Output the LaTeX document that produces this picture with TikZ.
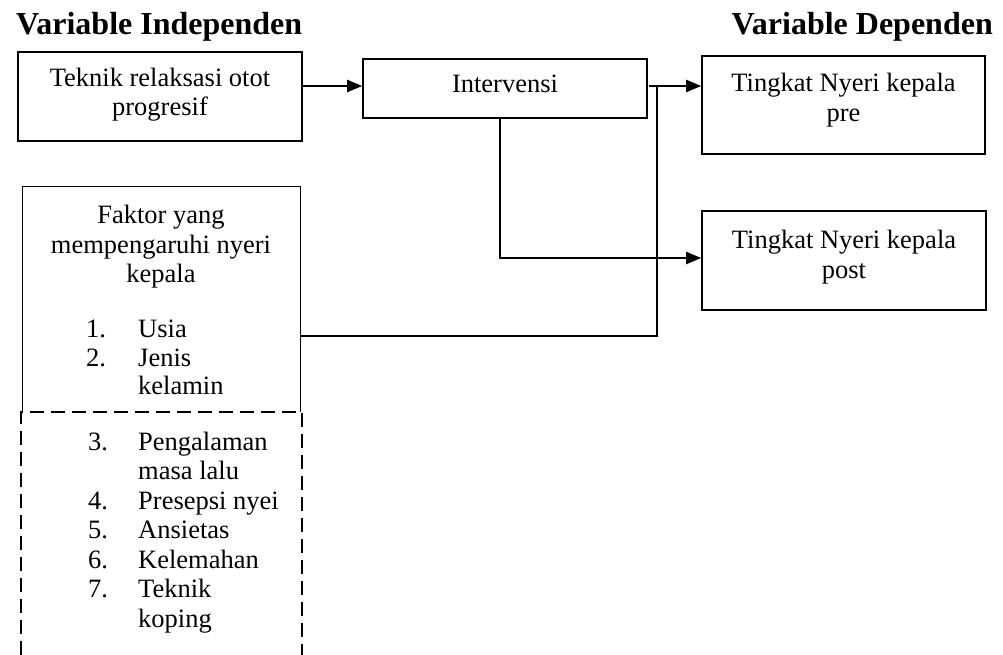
\documentclass[tikz,border=0pt]{standalone}
\usepackage{fontspec}
\setmainfont{Liberation Serif}
\usetikzlibrary{arrows.meta}
\begin{document}
\begin{tikzpicture}[x=1pt,y=-1pt,
  box/.style={draw, line width=1.6pt, inner sep=0pt},
  txt/.style={font=\fontsize{26.5}{29.5}\selectfont, inner sep=0pt, anchor=base},
  itm/.style={font=\fontsize{26.5}{29.5}\selectfont, inner sep=0pt, anchor=base west},
  ttl/.style={font=\fontsize{32}{34}\selectfont\bfseries, inner sep=0pt},
  conn/.style={line width=2.2pt},
  arr/.style={conn, -{Triangle[length=15pt,width=12pt]}},
  thinbox/.style={line width=1pt},
  dashbox/.style={line width=2.2pt, dash pattern=on 14pt off 7pt},
]
\useasboundingbox (0,0) rectangle (1003,655);
% titles
\node[ttl, anchor=base west] (t1) at (16,35) {Variable Independen};
\node[ttl, anchor=base east] (t2) at (993,35) {Variable Dependen};
% boxes
\node[box, minimum width=284pt, minimum height=89pt] (tek) at (160,96.5) {};
\node[box, minimum width=284pt, minimum height=59pt] (int) at (505,88.5) {};
\node[box, minimum width=283pt, minimum height=98pt] (pre) at (843.5,105) {};
\node[box, minimum width=284pt, minimum height=99pt] (post) at (844,260.5) {};
\node[inner sep=0pt, minimum width=277pt, minimum height=225pt] (fac) at (161.5,299.5) {};
\draw[thinbox] (fac.south west) -- (fac.north west) -- (fac.north east) -- (fac.south east);
\draw[dashbox] (21,655) -- (21,412) -- (302,412) -- (302,655);
% texts
\node[txt] (tekA) at (160,87) {Teknik relaksasi otot};
\node[txt] (tekB) at (160,116) {progresif};
\node[txt] (intA) at (505,93) {Intervensi};
\node[txt] (preA) at (843.5,92) {Tingkat Nyeri kepala};
\node[txt] (preB) at (843.5,122) {pre};
\node[txt] (postA) at (844,248) {Tingkat Nyeri kepala};
\node[txt] (postB) at (844,278) {post};
\node[txt] (facA) at (161,223) {Faktor yang};
\node[txt] (facB) at (161,253) {mempengaruhi nyeri};
\node[txt] (facC) at (161,282) {kepala};
\node[itm] (n1) at (86,337) {1.};
\node[itm] (i1) at (138,337) {Usia};
\node[itm] (n2) at (86,366) {2.};
\node[itm] (i2) at (138,366) {Jenis};
\node[itm] (i2b) at (138,394) {kelamin};
\node[itm] (n3) at (88,450) {3.};
\node[itm] (i3) at (138,450) {Pengalaman};
\node[itm] (i3b) at (138,479.5) {masa lalu};
\node[itm] (n4) at (88,509) {4.};
\node[itm] (i4) at (138,509) {Presepsi nyei};
\node[itm] (n5) at (88,538.5) {5.};
\node[itm] (i5) at (138,538.5) {Ansietas};
\node[itm] (n6) at (88,568) {6.};
\node[itm] (i6) at (138,568) {Kelemahan};
\node[itm] (n7) at (88,597.5) {7.};
\node[itm] (i7) at (138,597.5) {Teknik};
\node[itm] (i7b) at (138,627) {koping};
% connectors
\coordinate (a1) at (302,86);
\draw[arr] (a1) -- (int.west |- a1);
\coordinate (s1) at (649,86);
\draw[arr] (s1) -- (pre.west |- s1);
\coordinate (jT) at (657,86);
\coordinate (jB) at (657,336);
\draw[conn] (fac.east |- jB) -- (jB) -- (jT);
\coordinate (d2) at (500,258);
\draw[arr] (int.south -| d2) -- (d2) -- (post.west |- d2);
\end{tikzpicture}
\end{document}
